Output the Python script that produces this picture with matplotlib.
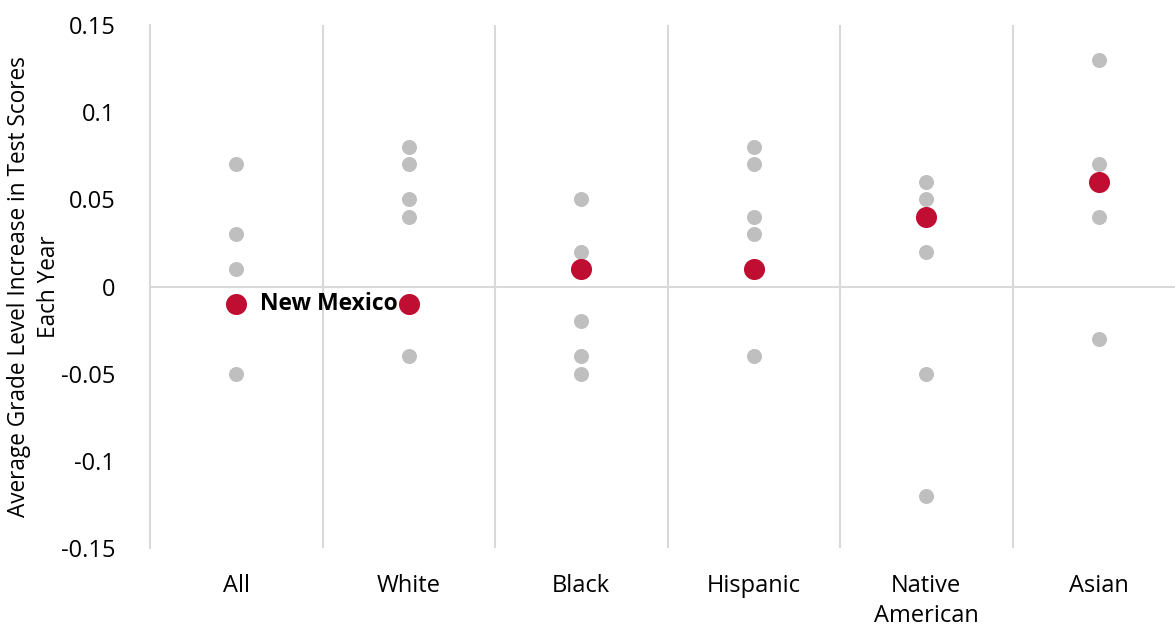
import matplotlib
matplotlib.use("Agg")
import matplotlib.pyplot as plt

plt.rcParams['font.family'] = ['Open Sans', 'DejaVu Sans']

categories = ["All", "White", "Black", "Hispanic", "Native\nAmerican", "Asian"]

# Other states (gray) per group
other_states = [
    [0.07, 0.03, 0.01, -0.05],
    [0.08, 0.07, 0.05, 0.04, -0.04],
    [0.05, 0.02, -0.02, -0.04, -0.05],
    [0.08, 0.07, 0.04, 0.03, -0.04],
    [0.06, 0.05, 0.02, -0.05, -0.12],
    [0.13, 0.07, 0.04, -0.03],
]

# New Mexico (red) per group
new_mexico = [-0.01, -0.01, 0.01, 0.01, 0.04, 0.06]

y_ticks = [0.15, 0.1, 0.05, 0, -0.05, -0.1, -0.15]
y_tick_labels = ["0.15", "0.1", "0.05", "0", "-0.05", "-0.1", "-0.15"]

GRAY = "#BFBFBF"
RED = "#C00D32"
GRID = "#D9D9D9"
FS = 17

fig = plt.figure(figsize=(11.75, 6.26), dpi=100)
ax = fig.add_axes([150 / 1175, 1 - 548 / 626, 1035 / 1175, (548 - 25) / 626])

for i, vals in enumerate(other_states):
    ax.scatter([i] * len(vals), vals, s=117, color=GRAY, linewidths=0, zorder=3)
ax.scatter(range(len(new_mexico)), new_mexico, s=230, color=RED, linewidths=0, zorder=4)

ax.annotate("New Mexico", xy=(0, new_mexico[0]), xytext=(17, 0),
            textcoords="offset points", va="center", ha="left",
            fontsize=16.5, fontweight="bold", color="black", zorder=5)

ax.set_xlim(-0.5, len(categories) - 0.5)
ax.set_ylim(-0.15, 0.15)

for b in range(1, len(categories)):
    ax.axvline(b - 0.5, color=GRID, linewidth=1.5, zorder=1)
ax.axhline(0, color=GRID, linewidth=1.5, zorder=1)

for side in ["top", "right", "bottom"]:
    ax.spines[side].set_visible(False)
ax.spines["left"].set_color(GRID)
ax.spines["left"].set_linewidth(1.5)

ax.set_xticks(range(len(categories)))
ax.set_xticklabels(categories, fontsize=FS, va="top", linespacing=1.3)
ax.set_yticks(y_ticks)
ax.set_yticklabels(y_tick_labels, fontsize=FS)
ax.tick_params(axis="both", length=0)
ax.tick_params(axis="x", pad=19)
ax.tick_params(axis="y", pad=25)

ax.set_ylabel("Average Grade Level Increase in Test Scores\nEach Year",
              fontsize=16.3, linespacing=1.35)
ax.yaxis.set_label_coords(-116 / 1035, 0.5)
ax.yaxis.label.set_va("center")

fig.savefig("out.png", dpi=100)
